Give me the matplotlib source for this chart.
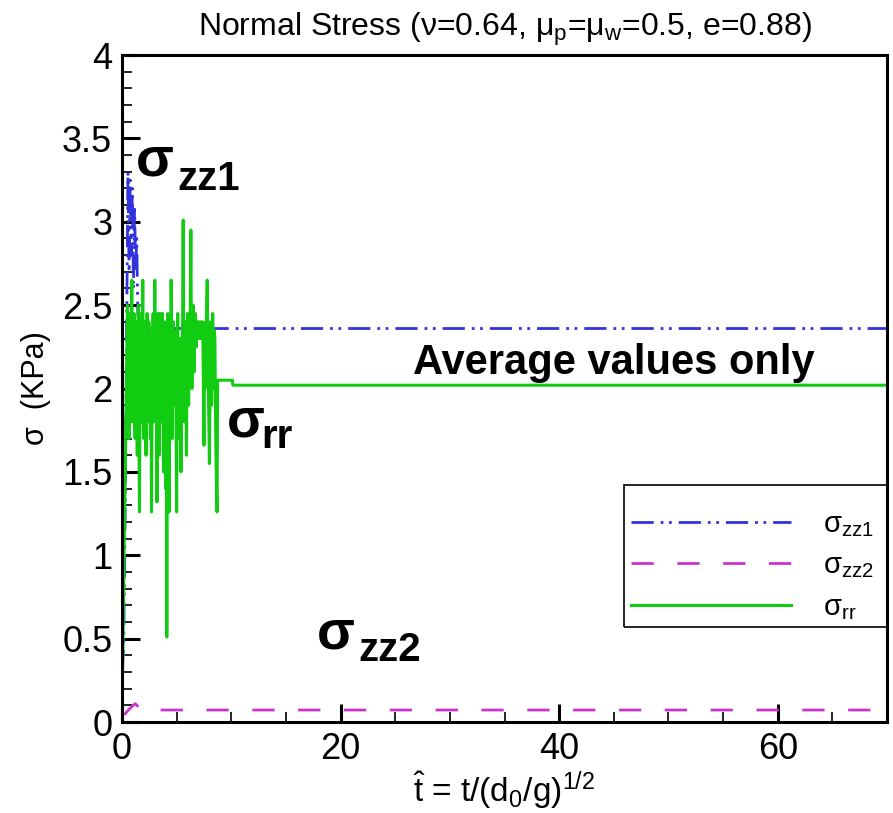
import matplotlib
matplotlib.use('Agg')
import matplotlib.pyplot as plt
from matplotlib.patches import Rectangle
from matplotlib.ticker import MultipleLocator
import matplotlib.transforms as mtrans

plt.rcParams['font.family'] = ['Liberation Sans', 'DejaVu Sans']
plt.rcParams['mathtext.fontset'] = 'custom'
plt.rcParams['mathtext.rm'] = 'Liberation Sans'
plt.rcParams['mathtext.it'] = 'Liberation Sans'
plt.rcParams['mathtext.bf'] = 'Liberation Sans:bold'

# data
t_zz1 = [0.0, 0.15, 0.3, 0.45, 0.55, 0.65, 0.75, 0.85, 0.95, 1.05, 1.15, 1.25, 1.35, 1.45, 1.55, 70.0]
s_zz1 = [0.3, 0.45, 1.3, 2.55, 3.3, 2.7, 3.25, 2.8, 3.2, 2.6, 3.1, 2.7, 2.9, 2.45, 2.36, 2.36]

t_zz2 = [0.0, 0.3, 0.7, 1.2, 1.8, 70.0]
s_zz2 = [0.04, 0.05, 0.08, 0.11, 0.072, 0.072]

t_rr = [0.0, 0.1, 0.2, 0.3, 0.4,
        0.50, 0.55, 0.60, 0.65, 0.70, 0.75, 0.80, 0.85, 0.90, 0.95,
        1.00, 1.05, 1.10, 1.15, 1.20, 1.25, 1.30, 1.35, 1.40, 1.45,
        1.50, 1.55, 1.60, 1.65, 1.70, 1.75, 1.80, 1.85, 1.90, 1.95,
        2.00, 2.05, 2.10, 2.15, 2.20, 2.25, 2.30, 2.35, 2.40, 2.45,
        2.50, 2.55, 2.60, 2.65, 2.70, 2.75, 2.80, 2.85, 2.90, 2.95,
        3.00, 3.05, 3.10, 3.15, 3.20, 3.25, 3.30, 3.35, 3.40, 3.45,
        3.50, 3.55, 3.60, 3.65, 3.70, 3.75, 3.80, 3.85, 3.90, 3.95,
        4.00, 4.05, 4.10, 4.15, 4.20, 4.25, 4.30, 4.35, 4.40, 4.45,
        4.50, 4.55, 4.60, 4.65, 4.70, 4.75, 4.80, 4.85, 4.90, 4.95,
        5.00, 5.05, 5.10, 5.15, 5.20, 5.25, 5.30, 5.35, 5.40, 5.45,
        5.50, 5.55, 5.60, 5.65, 5.70, 5.75, 5.80, 5.85, 5.90, 5.95,
        6.00, 6.05, 6.10, 6.15, 6.20, 6.25, 6.30, 6.35, 6.40, 6.45,
        6.50, 6.55, 6.60, 6.65, 6.70, 6.75, 6.80, 6.85, 6.90, 6.95,
        7.00, 7.05, 7.10, 7.15, 7.20, 7.25, 7.30, 7.35, 7.40, 7.45,
        7.50, 7.55, 7.60, 7.65, 7.70, 7.75, 7.80, 7.85, 7.90, 7.95,
        8.00, 8.05, 8.10, 8.15, 8.20, 8.25, 8.30, 8.35, 8.40, 8.45,
        8.50, 8.55, 8.60, 8.65, 8.70, 8.75, 10.1, 10.15, 70.0]
s_rr = [0.0, 0.55, 1.05, 1.5, 2.0,
        2.5, 1.9, 2.2, 1.7, 2.45, 2.1, 1.9, 2.4, 2.65, 1.8,
        2.0, 2.3, 2.45, 1.9, 1.7, 2.2, 2.4, 1.9, 1.6, 2.1,
        2.5, 1.8, 1.26, 2.0, 2.3, 2.45, 1.8, 2.2, 2.65, 2.1,
        1.7, 2.0, 2.4, 1.9, 1.6, 2.2, 2.45, 1.8, 1.9, 2.4,
        2.35, 2.0, 1.7, 2.2, 1.26, 1.9, 2.2, 2.45, 1.8, 2.1,
        2.65, 2.2, 1.9, 2.4, 1.32, 1.9, 2.45, 2.0, 1.6, 2.2,
        2.45, 1.9, 1.8, 2.3, 2.45, 2.0, 1.5, 2.1, 2.4, 1.8,
        1.4, 1.9, 0.51, 1.8, 2.45, 2.0, 1.26, 1.9, 2.3, 1.8,
        2.65, 2.1, 1.7, 2.2, 2.4, 1.9, 1.9, 2.35, 2.2, 1.8,
        1.26, 2.0, 2.45, 2.0, 1.7, 2.1, 2.3, 1.9, 1.5, 2.0,
        2.2, 2.4, 3.01, 2.2, 1.8, 2.1, 2.4, 2.0, 1.6, 2.2,
        2.45, 2.1, 1.9, 2.3, 2.2, 2.5, 2.95, 2.3, 2.0, 2.3,
        2.5, 2.25, 2.1, 2.35, 2.45, 2.3, 2.25, 2.4, 2.4, 2.3,
        2.3, 2.4, 2.35, 2.3, 2.4, 2.35, 2.3, 2.4, 2.35, 2.0,
        1.66, 2.2, 2.0, 2.4, 2.3, 2.5, 2.65, 2.2, 2.0, 1.8,
        1.55, 2.0, 2.4, 2.1, 1.9, 2.2, 2.45, 2.1, 2.0, 2.35,
        2.3, 1.9, 1.6, 1.4, 1.26, 2.05, 2.05, 2.02, 2.02]

fig = plt.figure(figsize=(8.93, 8.13), dpi=100)
ax = fig.add_axes([0.1366, 0.1119, 0.8567, 0.8204])

l1, = ax.plot(t_zz1, s_zz1, color='#3333dd', lw=2)
l1.set_dashes([8, 2.5, 1, 2, 1, 2.5])
l2, = ax.plot(t_zz2, s_zz2, color='#cc33cc', lw=2)
l2.set_dashes([8, 8.5])
l3, = ax.plot(t_rr, s_rr, color='#11cc11', lw=2.2)

ax.set_xlim(0, 70)
ax.set_ylim(0, 4)
ax.xaxis.set_major_locator(MultipleLocator(20))
ax.xaxis.set_minor_locator(MultipleLocator(5))
ax.yaxis.set_major_locator(MultipleLocator(0.5))
ax.yaxis.set_minor_locator(MultipleLocator(0.1))
ax.tick_params(which='both', direction='in', top=False, right=False, labelsize=26, pad=7)
ax.tick_params(which='major', length=13, width=2.2)
ax.tick_params(which='minor', length=7, width=1.2)
ax.yaxis.set_major_formatter(plt.FuncFormatter(lambda v, p: ('%g' % v)))
for sp in ax.spines.values():
    sp.set_linewidth(2.2)

ax.set_title('Normal Stress (ν=0.64, μ$_{\\rm p}$=μ$_{\\rm w}$=0.5, e=0.88)', fontsize=23, pad=14)
ax.set_ylabel('σ  (KPa)', fontsize=22, labelpad=8)
ax.set_xlabel(r'$\hat{\mathrm{t}}$ = t/(d$_0$/g)$^{1/2}$', fontsize=24, labelpad=2)

# big sigma labels
def sigma_label(x, y, sub, dx, dy):
    ax.text(x, y, 'σ', fontsize=40, fontweight='bold', va='baseline', ha='left')
    tr = mtrans.offset_copy(ax.transData, fig=fig, x=dx, y=dy, units='points')
    ax.text(x, y, sub, fontsize=29, fontweight='bold', va='baseline', ha='left', transform=tr)

sigma_label(1.3, 3.28, 'zz1', 30, -11)
sigma_label(9.6, 1.71, 'rr', 25, -8)
sigma_label(17.8, 0.44, 'zz2', 30, -9)

ax.text(45, 2.09, 'Average values only', fontsize=30, fontweight='bold', ha='center', va='baseline')

# legend in a box at lower right
leg = ax.legend([l1, l2, l3], ['σ$_{\\rm zz1}$', 'σ$_{\\rm zz2}$', 'σ$_{\\rm rr}$'],
                loc='upper left', bbox_to_anchor=(0.65, 0.335), frameon=False,
                fontsize=21, handlelength=5.5, handletextpad=1.1, labelspacing=0.43,
                borderaxespad=0)
ax.add_patch(Rectangle((0.656, 0.142), 0.36, 0.214, transform=ax.transAxes,
                       fill=False, edgecolor='black', lw=1.2, clip_on=True))

plt.savefig('out.png', dpi=100)
